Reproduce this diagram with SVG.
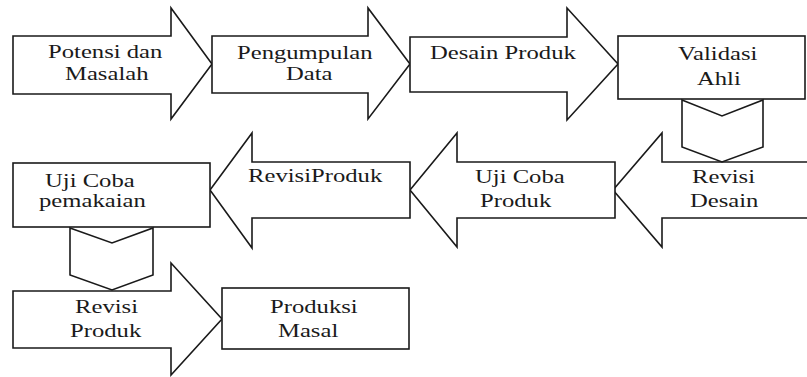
<svg xmlns="http://www.w3.org/2000/svg" width="807" height="377" viewBox="0 0 807 377">
<style>
.s{fill:#fff;stroke:#1a1a1a;stroke-width:1.6;stroke-linejoin:miter}
.t{font-family:'Liberation Serif','DejaVu Serif',serif;font-size:18px;fill:#1a1a1a}
</style>
<rect width="807" height="377" fill="#fff"/>
<g id="potensi">
<path class="s" d="M13,36 H171 V8 L212,64 L171,119 V94 H13 Z"/>
<text class="t" transform="matrix(1.37 0 0 1 48 58)">Potensi dan</text>
<text class="t" transform="matrix(1.37 0 0 1 65 80)">Masalah</text>
</g>
<g id="pengumpulan">
<path class="s" d="M212,36 H368 V8 L410,64 L368,119 V93 H212 Z"/>
<text class="t" transform="matrix(1.37 0 0 1 237 59)">Pengumpulan</text>
<text class="t" transform="matrix(1.37 0 0 1 286 80)">Data</text>
</g>
<g id="desain">
<path class="s" d="M410,37 H567 V8 L618,64 L567,120 V92 H410 Z"/>
<text class="t" transform="matrix(1.37 0 0 1 430 59)">Desain Produk</text>
</g>
<g id="validasi">
<rect class="s" x="618" y="36" width="187" height="63"/>
<text class="t" transform="matrix(1.37 0 0 1 678 60)">Validasi</text>
<text class="t" transform="matrix(1.37 0 0 1 697 85)">Ahli</text>
</g>
<g id="revisi-desain">
<path class="s" d="M810,162 H662 V133 L613,190 L662,247 V218 H810"/>
<text class="t" transform="matrix(1.37 0 0 1 692 183)">Revisi</text>
<text class="t" transform="matrix(1.37 0 0 1 690 207)">Desain</text>
</g>
<g id="uji-coba-produk">
<path class="s" d="M615,162 H457 V133 L410,190 L457,247 V218 H615 Z"/>
<text class="t" transform="matrix(1.37 0 0 1 475 183)">Uji Coba</text>
<text class="t" transform="matrix(1.37 0 0 1 480 207)">Produk</text>
</g>
<g id="revisi-produk-1">
<path class="s" d="M410,162 H252 V133 L210,190 L252,248 V218 H410 Z"/>
<text class="t" transform="matrix(1.37 0 0 1 248 182)">RevisiProduk</text>
</g>
<g id="uji-coba-pemakaian">
<rect class="s" x="13" y="163" width="197" height="64"/>
<text class="t" transform="matrix(1.37 0 0 1 45 187)">Uji Coba</text>
<text class="t" transform="matrix(1.37 0 0 1 39 207)">pemakaian</text>
</g>
<g id="revisi-produk-2">
<path class="s" d="M13,291 H171 V263 L222,319 L171,375 V348 H13 Z"/>
<text class="t" transform="matrix(1.37 0 0 1 75 313)">Revisi</text>
<text class="t" transform="matrix(1.37 0 0 1 70 337)">Produk</text>
</g>
<g id="produksi-masal">
<rect class="s" x="222" y="288" width="187" height="61"/>
<text class="t" transform="matrix(1.37 0 0 1 270 313)">Produksi</text>
<text class="t" transform="matrix(1.37 0 0 1 278 337)">Masal</text>
</g>
<g id="connectors">
<path class="s" d="M682,100 L722,116 L763,100 V147 L722,162 L682,147 Z"/>
<path class="s" d="M70,228 L112,243 L153,228 V275 L112,290 L70,275 Z"/>
</g>
</svg>
